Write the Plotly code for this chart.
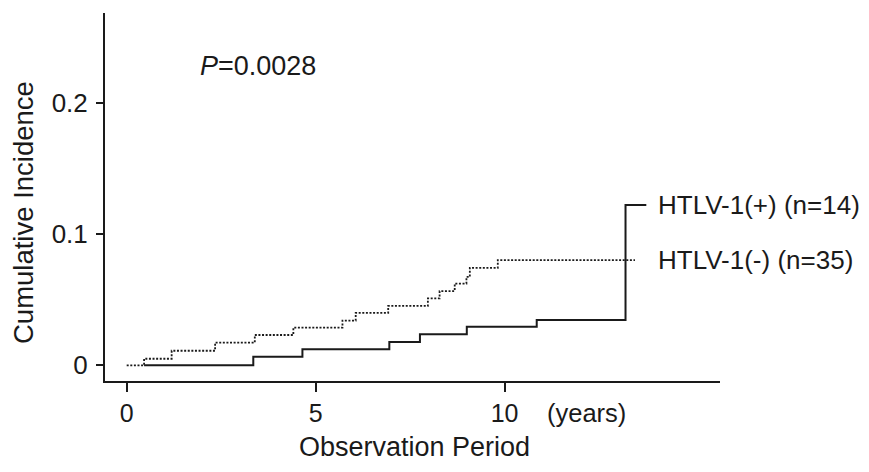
import plotly.graph_objects as go

# HTLV-1(+) (solid) step curve
pos_t = [0.46, 3.35, 4.65, 6.95, 7.76, 9.0, 10.85, 13.2, 13.75]
pos_y = [0.0, 0.0066, 0.0122, 0.0178, 0.0237, 0.0295, 0.0346, 0.1224, 0.1224]

# HTLV-1(-) (dotted) step curve
neg_t = [0.0, 0.46, 1.19, 2.34, 3.39, 4.41, 5.71, 6.06, 6.92, 7.97, 8.28, 8.68, 8.99, 9.08, 9.82, 13.45]
neg_y = [0.0, 0.0050, 0.0111, 0.0173, 0.0231, 0.0287, 0.0341, 0.0400, 0.0453, 0.0510,
         0.0566, 0.0624, 0.0675, 0.0744, 0.0803, 0.0803]

series_labels = ["HTLV-1(+) (n=14)", "HTLV-1(-) (n=35)"]
x_ticks = [0, 5, 10]
y_ticks = [0, 0.1, 0.2]
y_ticklabels = ["0", "0.1", "0.2"]
p_text = "<i>P</i>=0.0028"

FONT = "Liberation Sans, Arial, sans-serif"
INK = "#1a1a1a"

fig = go.Figure()
fig.add_trace(go.Scatter(x=neg_t, y=neg_y, mode="lines", line_shape="hv",
                         line=dict(color=INK, width=1.8, dash="2px,1.6px"),
                         showlegend=False, hoverinfo="skip"))
fig.add_trace(go.Scatter(x=pos_t, y=pos_y, mode="lines", line_shape="hv",
                         line=dict(color=INK, width=2),
                         showlegend=False, hoverinfo="skip"))

# end-of-curve labels
fig.add_annotation(x=14.0, y=pos_y[-1], text=series_labels[0], xref="x", yref="y",
                   xanchor="left", yanchor="middle", showarrow=False,
                   font=dict(family=FONT, size=26, color=INK))
fig.add_annotation(x=14.0, y=neg_y[-1], text=series_labels[1], xref="x", yref="y",
                   xanchor="left", yanchor="middle", showarrow=False,
                   font=dict(family=FONT, size=26, color=INK))
# P value
fig.add_annotation(x=1.88, y=0.2285, text=p_text, xref="x", yref="y",
                   xanchor="left", yanchor="middle", showarrow=False,
                   font=dict(family=FONT, size=27, color=INK))
# (years)
fig.add_annotation(x=0.7837, y=-0.087, text="(years)", xref="paper", yref="paper",
                   xanchor="center", yanchor="middle", showarrow=False,
                   font=dict(family=FONT, size=25.5, color=INK))
# axis titles
fig.add_annotation(x=0.504, y=-0.18, text="Observation Period", xref="paper", yref="paper",
                   xanchor="center", yanchor="middle", showarrow=False,
                   font=dict(family=FONT, size=27, color=INK))
fig.add_annotation(x=-0.1333, y=0.4565, text="Cumulative Incidence", xref="paper", yref="paper",
                   xanchor="center", yanchor="middle", showarrow=False, textangle=-90,
                   font=dict(family=FONT, size=27.5, color=INK))

fig.update_xaxes(range=[-0.574, 15.7], tickvals=x_ticks, ticktext=[str(v) for v in x_ticks],
                 showline=True, linecolor=INK, linewidth=2, showgrid=False, zeroline=False,
                 ticks="outside", ticklen=9, tickwidth=1.5, tickcolor=INK,
                 tickfont=dict(family=FONT, size=25, color=INK))
fig.update_yaxes(range=[-0.012, 0.2689], tickvals=y_ticks, ticktext=y_ticklabels,
                 showline=True, linecolor=INK, linewidth=2, showgrid=False, zeroline=False,
                 ticks="outside", ticklen=7, tickwidth=1.5, tickcolor=INK,
                 ticklabelstandoff=3,
                 tickfont=dict(family=FONT, size=26, color=INK))

# page body has an 8px default margin, so the figure is 8px smaller on each side
fig.update_layout(width=861, height=464, margin=dict(l=97, r=149, t=5, b=91),
                  plot_bgcolor="white", paper_bgcolor="white",
                  font=dict(family=FONT, color=INK), showlegend=False)

fig.write_html("out.html")
